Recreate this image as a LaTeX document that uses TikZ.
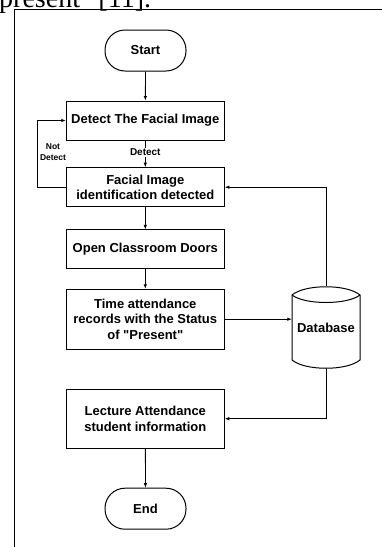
\documentclass[tikz,border=0pt]{standalone}
\usepackage{fontspec}
\setmainfont{Liberation Sans}
\newfontfamily\serifpage{Liberation Serif}
\usetikzlibrary{arrows.meta,calc}
\begin{document}
\begin{tikzpicture}[x=1pt,y=-1pt,
  box/.style={draw,line width=1pt,minimum width=158pt,align=center,font=\fontsize{13}{15.5}\selectfont\bfseries,inner sep=2pt},
  term/.style={draw,line width=1pt,rounded corners=20pt,minimum width=81pt,minimum height=41pt,font=\fontsize{13}{15.5}\selectfont\bfseries},
  arr/.style={line width=0.8pt,-{Latex[length=4.5pt,width=3.5pt]}},
  lbl/.style={font=\fontsize{10}{11}\selectfont\bfseries,inner sep=1pt,fill=white},
  smalllbl/.style={font=\fontsize{8.5}{11}\selectfont\bfseries,inner sep=1pt,align=center},
  frame/.style={line width=0.8pt},
]
\useasboundingbox (0,0) rectangle (382,547);
\clip (0,0) rectangle (382,547);

% page caption fragment
\node[anchor=base west,font=\serifpage\fontsize{28}{30}\selectfont,inner sep=0pt] (cap) at (-1,7) {present\textquotedbl{} [11].};

% frame
\draw[frame] (14,547) -- (14,9) -- (382,9);

% nodes
\node[term] (start) at (145.5,50.5) {Start};
\node[box,minimum height=39pt] (detect) at (145.3,120.5) {Detect The Facial Image};
\node[box,minimum height=39pt] (facial) at (145.3,187.2) {Facial Image\\identification detected};
\node[box,minimum height=38.7pt] (open) at (145.3,249.3) {Open Classroom Doors};
\node[box,minimum height=59.7pt] (time) at (145.3,319.2) {Time attendance\\records with the Status\\of \textquotedbl{}Present\textquotedbl};
\node[box,minimum height=58.7pt] (lecture) at (145.3,418.7) {Lecture Attendance\\student information};
\node[term] (end) at (145.5,508.7) {End};

% database
\node[minimum width=68pt,minimum height=83pt,inner sep=0pt,font=\fontsize{13}{15.5}\selectfont\bfseries] (db) at (326,327.5) {\raisebox{-4pt}{Database}};
\draw[line width=1pt] (292,295) .. controls (305,284) and (347,284) .. (360,295) -- (360,360) .. controls (347,371) and (305,371) .. (292,360) -- cycle;
\draw[line width=1pt] (292,295) .. controls (305,305) and (347,305) .. (360,295);

% connectors
\draw[arr] (start) -- (detect);
\draw[arr] (detect) -- (facial) node[lbl,pos=0.45] (lbldetect) {Detect};
\coordinate (nd) at (37,0);
\draw[arr] (facial.west) -- (facial.west -| nd) -- (detect.west -| nd) -- (detect.west);
\node[smalllbl] (lblnot) at (53,152) {Not\\Detect};
\draw[arr] (facial) -- (open);
\draw[arr] (open) -- (time);
\draw[arr] (db.north) -- (db.north |- facial.east) -- (facial.east);
\draw[arr] (time.east) -- (time.east -| db.west);
\draw[arr] (db.south) -- (db.south |- lecture.east) -- (lecture.east);
\draw[arr] (lecture) -- (end);
\end{tikzpicture}
\end{document}
